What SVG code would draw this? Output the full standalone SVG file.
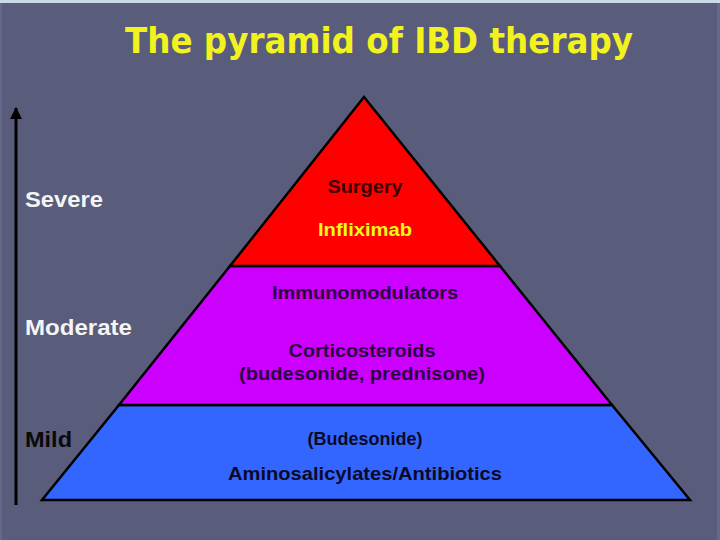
<svg xmlns="http://www.w3.org/2000/svg" width="720" height="540" viewBox="0 0 720 540">
<style>
.lab{font-family:"Liberation Sans",Arial,sans-serif;font-weight:bold}
.title{font-family:"DejaVu Sans",Verdana,sans-serif;font-weight:bold;font-size:36px;text-anchor:middle}
.side{font-size:22px}
.pt{font-size:18px;text-anchor:middle}
.tier{stroke:#000;stroke-width:2.5;stroke-linejoin:miter}
</style>
<defs>
<marker id="ah" viewBox="0 0 12 12" refX="11" refY="6" markerWidth="12" markerHeight="12" markerUnits="userSpaceOnUse" orient="auto">
<path d="M0,0 L12,6 L0,12 Z" fill="#000"/>
</marker>
</defs>
<rect width="720" height="540" fill="#595c7a"/>
<rect x="0" y="0" width="720" height="3" fill="#c9dbe6"/>
<rect x="0" y="3" width="2" height="537" fill="#65688a"/>
<rect x="717" y="3" width="3" height="537" fill="#65688a"/>
<text id="title" x="379" y="53" class="title" fill="#f2f21e" textLength="508" lengthAdjust="spacingAndGlyphs">The pyramid of IBD therapy</text>
<g id="connectors">
<line x1="16" y1="505" x2="16" y2="108" stroke="#000" stroke-width="3" marker-end="url(#ah)"/>
</g>
<g id="severe"><text x="25" y="207" class="lab side" fill="#f4f4f4" textLength="78" lengthAdjust="spacingAndGlyphs">Severe</text></g>
<g id="moderate"><text x="25" y="335" class="lab side" fill="#f4f4f4" textLength="107" lengthAdjust="spacingAndGlyphs">Moderate</text></g>
<g id="mild"><text x="25" y="447" class="lab side" fill="#0a0a0a" textLength="47" lengthAdjust="spacingAndGlyphs">Mild</text></g>
<g id="tier-mild">
<polygon class="tier" points="119,405 612,405 690,500 42,500" fill="#3366ff"/>
<text x="365" y="445" class="lab pt" fill="#0a0a28" textLength="115" lengthAdjust="spacingAndGlyphs">(Budesonide)</text>
<text x="365" y="480" class="lab pt" style="font-size:19px" fill="#0a0a28" textLength="274" lengthAdjust="spacingAndGlyphs">Aminosalicylates/Antibiotics</text>
</g>
<g id="tier-moderate">
<polygon class="tier" points="230,266 500,266 612,405 119,405" fill="#cc00ff"/>
<text x="365" y="299" class="lab pt" fill="#2a0040" textLength="186" lengthAdjust="spacingAndGlyphs">Immunomodulators</text>
<text x="362" y="357" class="lab pt" fill="#2a0040" textLength="147" lengthAdjust="spacingAndGlyphs">Corticosteroids</text>
<text x="362" y="380" class="lab pt" fill="#2a0040" textLength="246" lengthAdjust="spacingAndGlyphs">(budesonide, prednisone)</text>
</g>
<g id="tier-severe">
<polygon class="tier" points="364,97 500,266 230,266" fill="#ff0000"/>
<text x="365" y="193" class="lab pt" fill="#3a0000" textLength="75" lengthAdjust="spacingAndGlyphs">Surgery</text>
<text x="365" y="236" class="lab pt" fill="#f5f51e" textLength="94" lengthAdjust="spacingAndGlyphs">Infliximab</text>
</g>
</svg>
